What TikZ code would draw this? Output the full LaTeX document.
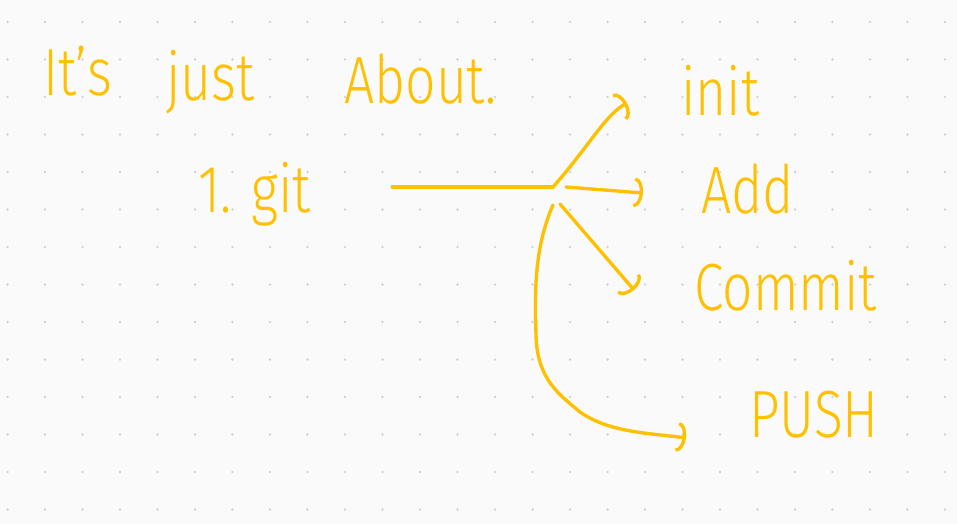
\documentclass[tikz,border=0pt]{standalone}
\usepackage{fontspec}
\setmainfont{Fira Sans Light}
\usetikzlibrary{arrows.meta}
\definecolor{ink}{RGB}{255,192,0}
\definecolor{paper}{RGB}{250,250,250}
\definecolor{griddot}{RGB}{212,212,212}
\begin{document}
\begin{tikzpicture}[x=0.02cm,y=-0.02cm,line join=round,line cap=round,>={Arc Barb[length=5pt,width=17pt]},line width=1.9pt]
	\tikzset{every node/.style={text=ink,inner sep=0pt,anchor=base west,xscale=0.8,font=\fontsize{38}{44}\selectfont}}
	\fill[paper] (0,0) rectangle (957,524);
	\useasboundingbox (0,0) rectangle (957,524);
	\foreach \i in {0,...,25}
		\foreach \j in {0,...,13}
			\fill[griddot] ({7.5+37.5*\i},{22+37.5*\j}) circle (0.8pt);
	\node (its) at (42,95) {It's};
	\node (just) at (165,100) {just};
	\node (about) at (343,103) {About.};
	\node (item) at (197,212) {1. git};
	\node (init) at (680,115) {init};
	\node (add) at (700,213) {Add};
	\node (commit) at (693,310) {Commit};
	\node (push) at (748,437) {PUSH};
	\coordinate (fork) at (553,187);
	\coordinate (initIn) at (627,103);
	\coordinate (addIn) at (643,193);
	\coordinate (commitIn) at (634,290);
	\coordinate (pushIn) at (686,438);
	\begin{scope}[draw=ink]
		\draw[shorten <=1.6cm] (item.east |- fork) -- (fork);
		\draw[->] (fork) .. controls (590,145) and (605,115) .. (initIn);
		\draw[->] ([xshift=0.26cm]fork) -- (addIn);
		\draw[->] ([xshift=0.14cm,yshift=-0.34cm]fork) -- (commitIn);
		\draw[->] ([yshift=-0.36cm]fork) .. controls (533,250) and (535,300) .. (536,335)
			.. controls (537,380) and (560,395) .. (580,412)
			.. controls (610,433) and (650,433) .. (pushIn);
	\end{scope}
\end{tikzpicture}
\end{document}
